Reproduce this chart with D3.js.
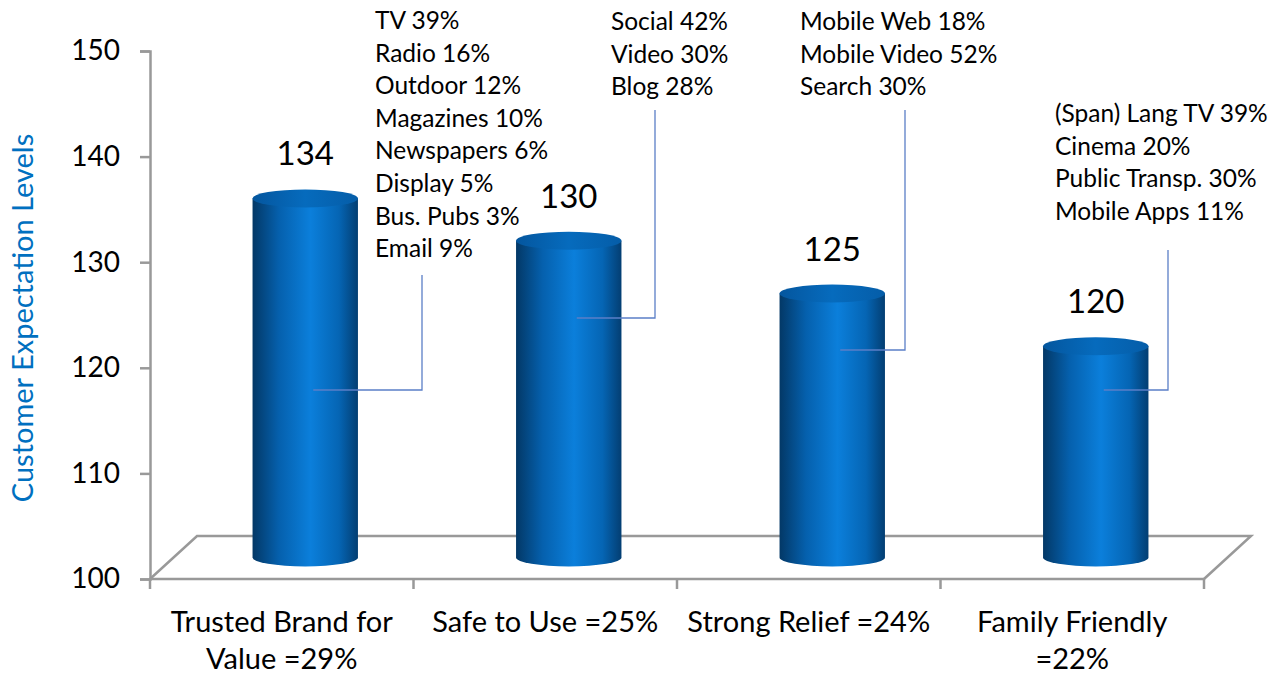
<!doctype html>
<html lang="en">
<head>
  <meta charset="utf-8">
  <title>Customer Expectation Levels</title>
<style>
body { margin: 0; background: #fff; }
svg text { font-family: Lato, "Open Sans", sans-serif; fill: #000; }
</style>
<script src="https://d3js.org/d3.v7.min.js"></script>
</head>
<body>
<div class="chart"></div>
<script>

  // values
  let categories = ["Trusted Brand for Value =29%", "Safe to Use =25%", "Strong Relief =24%", "Family Friendly =22%"];
  let catLines = [["Trusted Brand for", "Value =29%"], ["Safe to Use =25%"], ["Strong Relief =24%"], ["Family Friendly", "=22%"]];
  let values = [134, 130, 125, 120];
  let yTicks = [100, 110, 120, 130, 140, 150];
  let notes = [
    ["TV 39%", "Radio 16%", "Outdoor 12%", "Magazines 10%", "Newspapers 6%", "Display 5%", "Bus. Pubs 3%", "Email 9%"],
    ["Social 42%", "Video 30%", "Blog 28%"],
    ["Mobile Web 18%", "Mobile Video 52%", "Search 30%"],
    ["(Span) Lang TV 39%", "Cinema 20%", "Public Transp. 30%", "Mobile Apps 11%"]
  ];

  // where each note box sits (label layout, like excel's dragged data labels)
  let noteLayout = [
    {x: 375, y: 29, elbowX: 422, elbowY: 390, topY: 275},
    {x: 611, y: 30, elbowX: 655, elbowY: 318, topY: 110},
    {x: 800, y: 30, elbowX: 905, elbowY: 350, topY: 110},
    {x: 1055, y: 122, elbowX: 1168, elbowY: 390, topY: 250}
  ];

  let w = 1279, h = 677;
  let svg = d3.select(".chart").append("svg")
    .attr("width", w).attr("height", h);

  let x = d3.scaleBand().domain(categories).range([150, 1204]);
  let y = d3.scaleLinear().domain([100, 150]).range([579, 51]);

  // 3d depth of the floor
  let dx = 47, dy = -43;
  let cylW = x.bandwidth() * 0.4, ry = 9;

  let defs = svg.append("defs");
  let sideGrad = defs.append("linearGradient").attr("id", "side");
  sideGrad.append("stop").attr("offset", "0%").attr("stop-color", "#033866");
  sideGrad.append("stop").attr("offset", "25%").attr("stop-color", "#0560ad");
  sideGrad.append("stop").attr("offset", "55%").attr("stop-color", "#0b7fdb");
  sideGrad.append("stop").attr("offset", "82%").attr("stop-color", "#0565b4");
  sideGrad.append("stop").attr("offset", "100%").attr("stop-color", "#033e72");
  let topGrad = defs.append("linearGradient").attr("id", "topcap");
  topGrad.append("stop").attr("offset", "0%").attr("stop-color", "#04569e");
  topGrad.append("stop").attr("offset", "50%").attr("stop-color", "#066bbd");
  topGrad.append("stop").attr("offset", "100%").attr("stop-color", "#055da8");

  let gray = "#999";

  // floor
  let x0 = x.range()[0], x1 = x.range()[1], yb = y(100);
  svg.append("path")
    .attr("d", "M" + x0 + "," + yb + "L" + (x0 + dx) + "," + (yb + dy) +
      "L" + (x1 + dx) + "," + (yb + dy) + "L" + x1 + "," + yb)
    .attr("fill", "none").attr("stroke", gray).attr("stroke-width", 2.5);

  // y axis
  let yAxis = svg.append("g").attr("transform", "translate(" + x0 + ",0)")
    .call(d3.axisLeft(y).tickValues(yTicks).tickSize(10).tickPadding(20));
  yAxis.select(".domain").attr("stroke", gray).attr("stroke-width", 2.5);
  yAxis.selectAll(".tick line").attr("stroke", gray).attr("stroke-width", 2.5);
  yAxis.selectAll(".tick text").style("font-size", "28px").attr("fill", "#000");

  // x axis
  let xAxis = svg.append("g").attr("transform", "translate(0," + yb + ")");
  xAxis.append("line").attr("x1", x0).attr("x2", x1)
    .attr("stroke", gray).attr("stroke-width", 2.5);
  let xt = [x0].concat(categories.map(c => x(c) + x.bandwidth()));
  xAxis.selectAll(".xt").data(xt).enter().append("line")
    .attr("x1", d => d).attr("x2", d => d).attr("y1", 0).attr("y2", 10)
    .attr("stroke", gray).attr("stroke-width", 2.5);

  categories.forEach(function(c, i) {
    let t = svg.append("text").attr("text-anchor", "middle").style("font-size", "29px");
    catLines[i].forEach(function(line, j) {
      t.append("tspan").attr("x", x(c) + x.bandwidth() / 2).attr("y", 632 + j * 37).text(line);
    });
  });

  // cylinders
  let cyl = svg.selectAll(".cyl").data(values).enter().append("g");
  cyl.each(function(v, i) {
    let g = d3.select(this);
    let cx = x(categories[i]) + x.bandwidth() / 2 + dx / 2;
    let yt = y(v) + dy / 2, ybot = y(100) + dy / 2;
    let l = cx - cylW / 2, r = cx + cylW / 2;
    g.append("path")
      .attr("d", "M" + l + "," + yt + "L" + l + "," + ybot +
        "A" + (cylW / 2) + "," + ry + " 0 0 0 " + r + "," + ybot +
        "L" + r + "," + yt + "Z")
      .attr("fill", "url(#side)");
    g.append("ellipse").attr("cx", cx).attr("cy", yt).attr("rx", cylW / 2).attr("ry", ry)
      .attr("fill", "url(#topcap)");
    g.append("text").attr("x", cx).attr("y", yt - ry - 24)
      .attr("text-anchor", "middle").style("font-size", "33px").text(v);
  });

  // notes with leader lines
  notes.forEach(function(lines, i) {
    let p = noteLayout[i];
    let cx = x(categories[i]) + x.bandwidth() / 2 + dx / 2;
    svg.append("path")
      .attr("d", "M" + (cx + 8) + "," + p.elbowY + "H" + p.elbowX + "V" + p.topY)
      .attr("fill", "none").attr("stroke", "#5b7fc7").attr("stroke-width", 1.3);
    let t = svg.append("text").style("font-size", "24.5px");
    lines.forEach(function(line, j) {
      t.append("tspan").attr("x", p.x).attr("y", p.y + j * 32.6).text(line);
    });
  });

  // y title
  svg.append("text")
    .attr("transform", "translate(33," + 318 + ") rotate(-90)")
    .attr("text-anchor", "middle").style("font-size", "29px")
    .style("fill", "#0070c0").text("Customer Expectation Levels");

</script>
</body>
</html>
